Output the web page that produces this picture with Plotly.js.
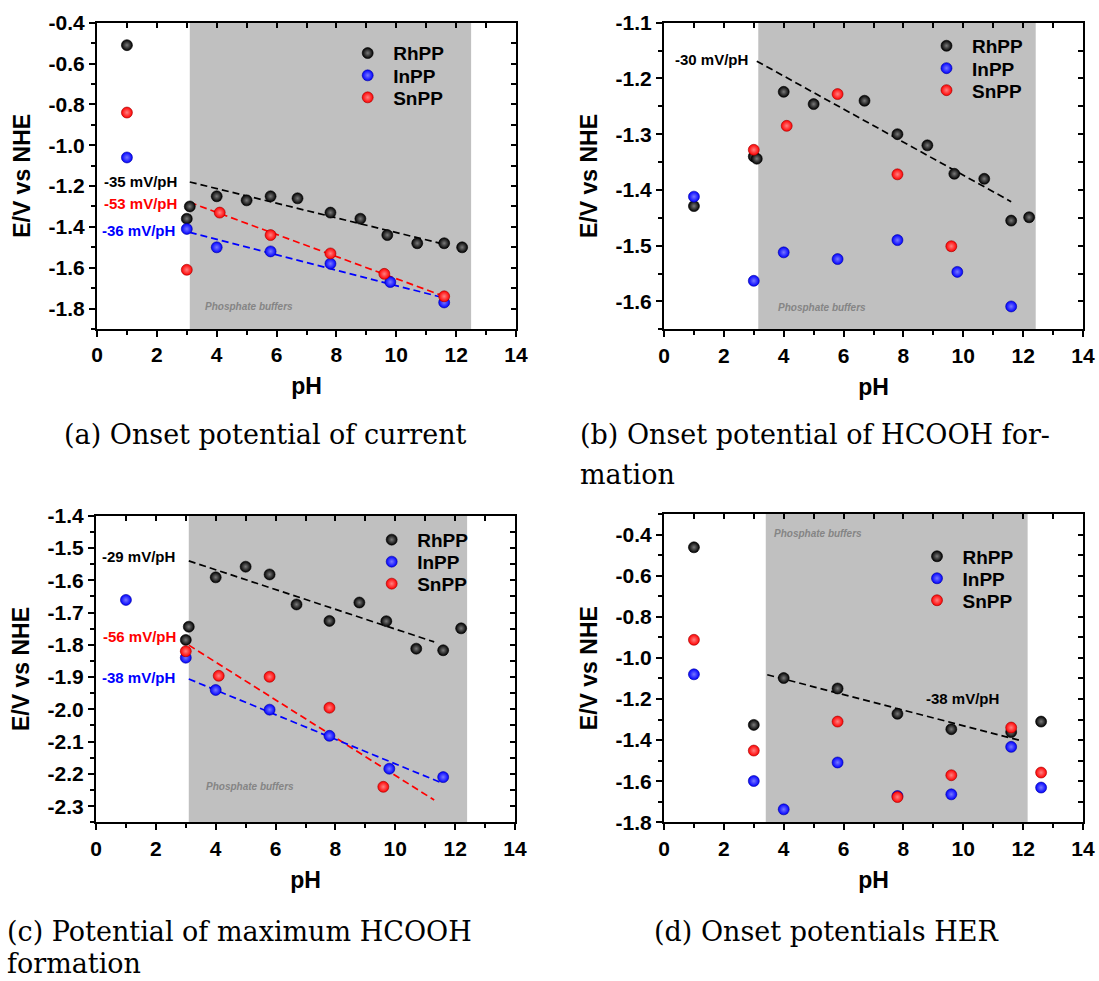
<!DOCTYPE html>
<html>
<head>
<meta charset="utf-8">
<script src="https://cdn.plot.ly/plotly-3.0.1.min.js"></script>
<style>html,body{margin:0;padding:0;background:#fff;}#chart{width:1099px;height:981px;}</style>
</head>
<body>
<div id="chart"></div>
<script>
// ---------------- DATA ----------------
const seriesNames = ['RhPP', 'InPP', 'SnPP'];

// (a) Onset potential of current
const pH_a_Rh = [1.0, 3.0, 3.1, 4.0, 5.0, 5.8, 6.7, 7.8, 8.8, 9.7, 10.7, 11.6, 12.2];
const E_a_Rh  = [-0.51, -1.36, -1.30, -1.25, -1.27, -1.25, -1.26, -1.33, -1.36, -1.44, -1.48, -1.48, -1.50];
const pH_a_In = [1.0, 3.0, 4.0, 5.8, 7.8, 9.8, 11.6];
const E_a_In  = [-1.06, -1.41, -1.50, -1.52, -1.58, -1.67, -1.77];
const pH_a_Sn = [1.0, 3.0, 4.1, 5.8, 7.8, 9.6, 11.6];
const E_a_Sn  = [-0.84, -1.61, -1.33, -1.44, -1.53, -1.63, -1.74];
const fit_a_Rh_pH = [3.1, 11.6], fit_a_Rh_E = [-1.18, -1.485];
const fit_a_Sn_pH = [3.1, 11.6], fit_a_Sn_E = [-1.28, -1.74];
const fit_a_In_pH = [3.1, 11.6], fit_a_In_E = [-1.427, -1.748];

// (b) Onset potential of HCOOH formation
const pH_b_Rh = [1.0, 3.0, 3.1, 4.0, 5.0, 6.7, 7.8, 8.8, 9.7, 10.7, 11.6, 12.2];
const E_b_Rh  = [-1.429, -1.340, -1.344, -1.224, -1.246, -1.240, -1.300, -1.320, -1.371, -1.380, -1.455, -1.449];
const pH_b_In = [1.0, 3.0, 4.0, 5.8, 7.8, 9.8, 11.6];
const E_b_In  = [-1.412, -1.563, -1.512, -1.524, -1.490, -1.547, -1.609];
const pH_b_Sn = [3.0, 4.1, 5.8, 7.8, 9.6];
const E_b_Sn  = [-1.328, -1.285, -1.228, -1.372, -1.501];
const fit_b_Rh_pH = [3.1, 11.6], fit_b_Rh_E = [-1.169, -1.421];

// (c) Potential of maximum HCOOH formation
const pH_c_Rh = [3.0, 3.1, 4.0, 5.0, 5.8, 6.7, 7.8, 8.8, 9.7, 10.7, 11.6, 12.2];
const E_c_Rh  = [-1.785, -1.744, -1.591, -1.558, -1.582, -1.675, -1.726, -1.669, -1.727, -1.812, -1.817, -1.749];
const pH_c_In = [1.0, 3.0, 4.0, 5.8, 7.8, 9.8, 11.6];
const E_c_In  = [-1.661, -1.840, -1.940, -2.001, -2.082, -2.184, -2.210];
const pH_c_Sn = [3.0, 4.1, 5.8, 7.8, 9.6];
const E_c_Sn  = [-1.820, -1.896, -1.899, -1.995, -2.240];
const fit_c_Rh_pH = [3.1, 11.3], fit_c_Rh_E = [-1.540, -1.791];
const fit_c_Sn_pH = [3.1, 11.3], fit_c_Sn_E = [-1.801, -2.281];
const fit_c_In_pH = [3.1, 11.5], fit_c_In_E = [-1.906, -2.226];

// (d) Onset potentials HER
const pH_d_Rh = [1.0, 3.0, 4.0, 5.8, 7.8, 9.6, 11.6, 12.6];
const E_d_Rh  = [-0.462, -1.326, -1.098, -1.149, -1.272, -1.347, -1.361, -1.310];
const pH_d_In = [1.0, 3.0, 4.0, 5.8, 7.8, 9.6, 11.6, 12.6];
const E_d_In  = [-1.080, -1.599, -1.737, -1.509, -1.672, -1.664, -1.433, -1.631];
const pH_d_Sn = [1.0, 3.0, 5.8, 7.8, 9.6, 11.6, 12.6];
const E_d_Sn  = [-0.912, -1.451, -1.310, -1.677, -1.571, -1.339, -1.558];
const fit_d_Rh_pH = [3.45, 11.9], fit_d_Rh_E = [-1.082, -1.402];

// Phosphate buffer pH ranges (shaded)
const buffer_a = [3.1, 12.5];
const buffer_b = [3.15, 12.42];
const buffer_c = [3.1, 12.4];
const buffer_d = [3.4, 12.15];

// Tick labels
const xTicks = [0, 2, 4, 6, 8, 10, 12, 14];
const yTicks_a = [-1.8, -1.6, -1.4, -1.2, -1.0, -0.8, -0.6, -0.4];
const yTicks_b = [-1.6, -1.5, -1.4, -1.3, -1.2, -1.1];
const yTicks_c = [-2.3, -2.2, -2.1, -2.0, -1.9, -1.8, -1.7, -1.6, -1.5, -1.4];
const yTicks_d = [-1.8, -1.6, -1.4, -1.2, -1.0, -0.8, -0.6, -0.4];

// Slope labels
const slope_a = [{t: '-35 mV/pH', x: 2.74, y: -1.18, s: 0}, {t: '-53 mV/pH', x: 2.74, y: -1.285, s: 2}, {t: '-36 mV/pH', x: 2.67, y: -1.416, s: 1}];
const slope_b = [{t: '-30 mV/pH', x: 1.6, y: -1.166, s: 0}];
const slope_c = [{t: '-29 mV/pH', x: 2.71, y: -1.527, s: 0}, {t: '-56 mV/pH', x: 2.73, y: -1.775, s: 2}, {t: '-38 mV/pH', x: 2.69, y: -1.901, s: 1}];
const slope_d = [{t: '-38 mV/pH', x: 9.98, y: -1.197, s: 0}];
const bufferLabelPos = [[5.07, -1.792], [5.29, -1.61], [5.15, -2.238], [5.14, -0.397]];

const captions = [
  ['(a) Onset potential of current'],
  ['(b) Onset potential of HCOOH for-', 'mation'],
  ['(c) Potential of maximum HCOOH', 'formation'],
  ['(d) Onset potentials HER']
];

// ---------------- STYLE ----------------
const W = 1099, H = 981;
const colors = ['#000000', '#0000ff', '#ff0000'];
const hilite = ['#7a7a7a', '#7878ff', '#ff8080'];
const edge = ['#000000', '#0000a0', '#a00000'];
const SANS = 'Liberation Sans, Arial, Helvetica, sans-serif';
const LEG_IW = 41;

const panels = [
  {id: '', data: [[pH_a_Rh, E_a_Rh], [pH_a_In, E_a_In], [pH_a_Sn, E_a_Sn]],
   fits: [[fit_a_Rh_pH, fit_a_Rh_E, 0], [fit_a_Sn_pH, fit_a_Sn_E, 2], [fit_a_In_pH, fit_a_In_E, 1]],
   buf: buffer_a, yr: [-1.9, -0.4], yt: yTicks_a, ym: 0.1, slopes: slope_a,
   px: [97, 516], py: [22.7, 329], legX: 367.7, legY: [51.7, 74, 96], xanchor: 'right'},
  {id: '2', data: [[pH_b_Rh, E_b_Rh], [pH_b_In, E_b_In], [pH_b_Sn, E_b_Sn]],
   fits: [[fit_b_Rh_pH, fit_b_Rh_E, 0]],
   buf: buffer_b, yr: [-1.65, -1.1], yt: yTicks_b, ym: 0.05, slopes: slope_b,
   px: [664, 1083], py: [22.7, 329.3], legX: 946.5, legY: [44.4, 66.8, 88.8], xanchor: 'center'},
  {id: '3', data: [[pH_c_Rh, E_c_Rh], [pH_c_In, E_c_In], [pH_c_Sn, E_c_Sn]],
   fits: [[fit_c_Rh_pH, fit_c_Rh_E, 0], [fit_c_Sn_pH, fit_c_Sn_E, 2], [fit_c_In_pH, fit_c_In_E, 1]],
   buf: buffer_c, yr: [-2.35, -1.4], yt: yTicks_c, ym: 0.05, slopes: slope_c,
   px: [96, 515], py: [515.7, 822.3], legX: 391.7, legY: [538.3, 560.3, 582.3], xanchor: 'right'},
  {id: '4', data: [[pH_d_Rh, E_d_Rh], [pH_d_In, E_d_In], [pH_d_Sn, E_d_Sn]],
   fits: [[fit_d_Rh_pH, fit_d_Rh_E, 0]],
   buf: buffer_d, yr: [-1.8, -0.3], yt: yTicks_d, ym: 0.1, slopes: slope_d,
   px: [664, 1083], py: [514, 822.3], legX: 937, legY: [554.9, 576.9, 598.9], xanchor: 'center'}
];

const captionPos = [
  [[62, 435]],
  [[578, 435], [578, 474]],
  [[5, 931], [5, 963]],
  [[652, 931]]
];

const traces = [];
const layout = {
  width: W, height: H,
  margin: {l: 0, r: 0, t: 0, b: 0},
  paper_bgcolor: '#ffffff', plot_bgcolor: 'rgba(0,0,0,0)',
  showlegend: true,
  font: {family: SANS, color: '#000'},
  shapes: [], annotations: []
};

panels.forEach((p, i) => {
  const xa = 'x' + p.id, ya = 'y' + p.id;
  const xkey = 'xaxis' + p.id, ykey = 'yaxis' + p.id;
  const ov = String(i + 5);
  const dom = {
    x: [p.px[0] / W, p.px[1] / W],
    y: [1 - p.py[1] / H, 1 - p.py[0] / H]
  };
  p.fits.forEach(f => {
    traces.push({type: 'scatter', mode: 'lines', x: f[0], y: f[1], xaxis: xa, yaxis: ya,
      line: {color: colors[f[2]], width: 1.7, dash: '7px,4px'}, showlegend: false, hoverinfo: 'skip'});
  });
  p.data.forEach((d, s) => {
    const n = i * 3 + s + 1;
    const legKey = n === 1 ? 'legend' : 'legend' + n;
    traces.push({type: 'scatter', mode: 'markers', x: d[0], y: d[1], xaxis: xa, yaxis: ya,
      name: seriesNames[s], legend: legKey,
      marker: {size: 11, color: colors[s], gradient: {type: 'radial', color: hilite[s]}, line: {color: edge[s], width: 0.6}}});
    layout[legKey] = {
      x: (p.legX - 5 - LEG_IW / 2) / W, y: 1 - (p.legY[s] - 17.5) / H, xanchor: 'left', yanchor: 'top',
      xref: 'paper', yref: 'paper', bgcolor: 'rgba(0,0,0,0)', borderwidth: 0,
      font: {family: SANS, size: 19, weight: 700, color: '#000'}, itemwidth: LEG_IW
    };
  });
  traces.push({type: 'scatter', mode: 'markers', x: [], y: [], xaxis: 'x' + ov, yaxis: 'y' + ov, showlegend: false, hoverinfo: 'skip'});

  layout[xkey] = {
    domain: dom.x, anchor: ya, range: [0, 14], tickmode: 'array', tickvals: xTicks, ticktext: xTicks.map(v => String(v)),
    ticks: 'outside', ticklen: 6, tickwidth: 2, tickcolor: '#000',
    minor: {tickmode: 'linear', tick0: 0, dtick: 1, ticks: 'outside', ticklen: 4, tickwidth: 2, tickcolor: '#000', showgrid: false},
    showline: true, linewidth: 2, linecolor: '#000', mirror: true, showgrid: false, zeroline: false,
    tickfont: {family: SANS, size: 21, weight: 700, color: '#000'},
    title: {text: 'pH', font: {family: SANS, size: 23, weight: 700, color: '#000'}, standoff: 13}
  };
  layout[ykey] = {
    domain: dom.y, anchor: xa, range: p.yr, tickmode: 'array', tickvals: p.yt, ticktext: p.yt.map(v => v.toFixed(1)),
    ticks: 'outside', ticklen: 6, tickwidth: 2, tickcolor: '#000',
    minor: {tickmode: 'linear', tick0: p.yt[0], dtick: p.ym, ticks: 'outside', ticklen: 4, tickwidth: 2, tickcolor: '#000', showgrid: false},
    showline: true, linewidth: 2, linecolor: '#000', mirror: true, showgrid: false, zeroline: false,
    tickfont: {family: SANS, size: 21, weight: 700, color: '#000'},
    title: {text: 'E/V vs NHE', font: {family: SANS, size: 23, weight: 700, color: '#000'}, standoff: 12}
  };
  layout['xaxis' + ov] = {
    overlaying: xa, side: 'top', anchor: 'y' + ov, range: [0, 14], tickmode: 'linear', tick0: 0, dtick: 1,
    ticks: 'inside', ticklen: 5, tickwidth: 2, tickcolor: '#000', showticklabels: false,
    showline: false, showgrid: false, zeroline: false
  };
  layout['yaxis' + ov] = {
    overlaying: ya, side: 'right', anchor: 'x' + ov, range: p.yr, tickmode: 'linear', tick0: p.yt[0], dtick: p.ym,
    ticks: 'inside', ticklen: 5, tickwidth: 2, tickcolor: '#000', showticklabels: false,
    showline: false, showgrid: false, zeroline: false
  };
  layout.shapes.push({type: 'rect', xref: xa, yref: ya + ' domain', x0: p.buf[0], x1: p.buf[1], y0: 0, y1: 1,
    fillcolor: '#c0c0c0', line: {width: 0}, layer: 'below'});
  p.slopes.forEach(s => {
    layout.annotations.push({xref: xa, yref: ya, x: s.x, y: s.y, text: s.t, showarrow: false,
      xanchor: p.xanchor, yanchor: 'middle', font: {family: SANS, size: 15, weight: 700, color: colors[s.s]}});
  });
  layout.annotations.push({xref: xa, yref: ya, x: bufferLabelPos[i][0], y: bufferLabelPos[i][1], text: 'Phosphate buffers',
    showarrow: false, xanchor: 'center', yanchor: 'middle',
    font: {family: SANS, size: 10, weight: 700, style: 'italic', color: '#858585'}});
  captions[i].forEach((line, k) => {
    layout.annotations.push({xref: 'paper', yref: 'paper', x: captionPos[i][k][0] / W, y: 1 - captionPos[i][k][1] / H,
      text: line, showarrow: false, xanchor: 'left', yanchor: 'middle',
      font: {family: 'DejaVu Serif, Liberation Serif, serif', size: 27, color: '#000'}});
  });
});

Plotly.newPlot('chart', traces, layout, {displayModeBar: false, staticPlot: true});
</script>
</body>
</html>
